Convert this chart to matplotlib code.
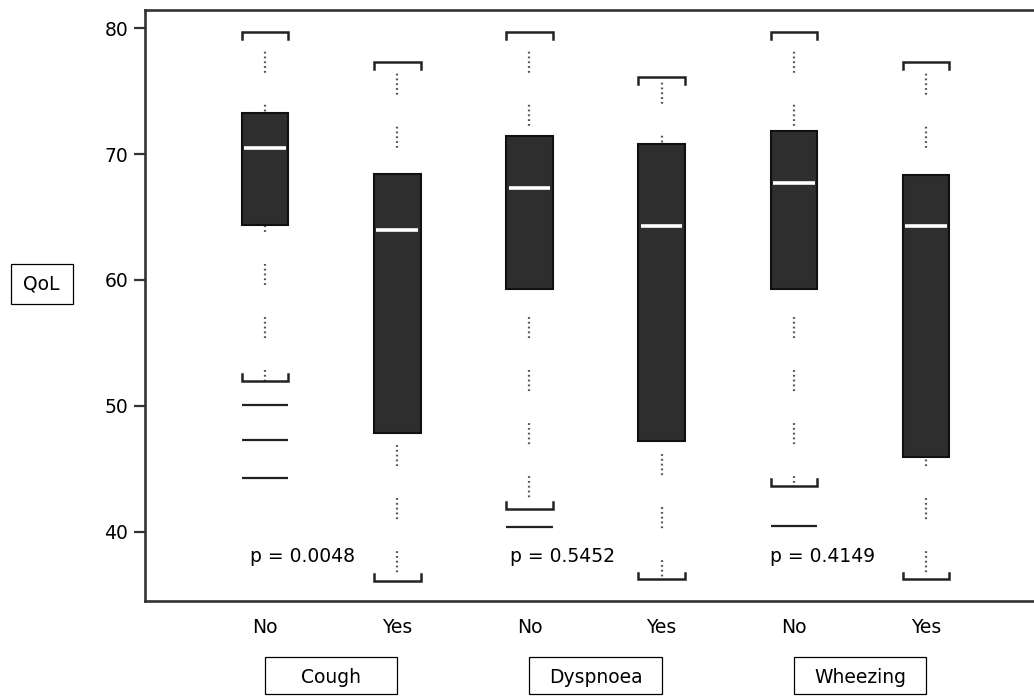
import matplotlib.pyplot as plt
from matplotlib.patches import Rectangle
from matplotlib.transforms import blended_transform_factory

plt.rcParams['font.family'] = ['DejaVu Sans']
plt.rcParams['lines.scale_dashes'] = False

# data
groups = ["Cough", "Dyspnoea", "Wheezing"]
levels = ["No", "Yes"]
box_low = [64.4, 47.8, 59.3, 47.2, 59.3, 45.9]
box_high = [73.3, 68.4, 71.4, 70.8, 71.8, 68.3]
medians = [70.5, 64.0, 67.3, 64.3, 67.7, 64.3]
whisker_high = [79.7, 77.3, 79.7, 76.1, 79.7, 77.3]
whisker_low = [52.0, 36.1, 41.8, 36.2, 43.6, 36.2]
outliers = [[50.1, 47.3, 44.3], [], [40.4], [], [40.45], []]
p_values = ["0.0048", "0.5452", "0.4149"]

# layout
W, H = 1034, 696
positions = [1, 2, 3, 4, 5, 6]
half = 0.1765
dot_offsets = [24.0, 29.8, 24.0, 34.1, 24.0, 29.8]
p_shift = [-0.113, -0.144, -0.181]
dots = (1.3, 2.16, 1.3, 2.16, 1.3, 2.16, 1.3, 2.16, 1.3, 23.06)

fig = plt.figure(figsize=(W / 100, H / 100), dpi=100)
ax = fig.add_axes([145 / W, 1 - 601 / H, 1 - 145 / W, (601 - 10) / H])

for i, x in enumerate(positions):
    # dotted whisker, cap to cap, behind the box
    ax.plot([x, x], [whisker_high[i], whisker_low[i]], color="#555555", lw=1.6,
            ls=(dot_offsets[i], dots), dash_capstyle="butt", zorder=1)
    # box
    ax.add_patch(Rectangle((x - half, box_low[i]), 2 * half, box_high[i] - box_low[i],
                           facecolor="#2e2e2e", edgecolor="#111111", lw=1.5, zorder=2))
    # median
    ax.plot([x - half + 0.02, x + half - 0.02], [medians[i]] * 2, color="white",
            lw=2.6, solid_capstyle="butt", zorder=3)
    # bracket caps
    ax.plot([x - half, x - half, x + half, x + half],
            [whisker_high[i] - 0.55, whisker_high[i], whisker_high[i], whisker_high[i] - 0.55],
            color="#222222", lw=1.8, zorder=3, solid_joinstyle="miter")
    ax.plot([x - half, x - half, x + half, x + half],
            [whisker_low[i] + 0.55, whisker_low[i], whisker_low[i], whisker_low[i] + 0.55],
            color="#222222", lw=1.8, zorder=3, solid_joinstyle="miter")
    # outliers as horizontal lines
    for v in outliers[i]:
        ax.plot([x - half, x + half], [v, v], color="#222222", lw=1.6,
                solid_capstyle="butt", zorder=3)

for g, p in enumerate(p_values):
    ax.text(positions[2 * g] + p_shift[g], 37.6, "p = " + p, fontsize=13.5,
            ha="left", va="baseline", color="black")

ax.set_xlim(0.093, 6.816)
ax.set_ylim(34.49, 81.45)
ax.set_yticks([40, 50, 60, 70, 80])
ax.set_xticks(positions)
ax.set_xticklabels(levels * 3)
ax.tick_params(axis="y", length=8, width=1.6, pad=4, labelsize=13.5, color="#333333")
ax.tick_params(axis="x", length=0, pad=12, labelsize=13.5)
for side in ["left", "top", "bottom"]:
    ax.spines[side].set_linewidth(1.9)
    ax.spines[side].set_color("#333333")
ax.spines["right"].set_visible(False)

# y label in a box
fig.add_artist(Rectangle((10.7 / W, 1 - 304.3 / H), 62 / W, 40.3 / H, transform=fig.transFigure,
                         facecolor="white", edgecolor="black", lw=0.9))
fig.text(41.7 / W, 1 - 284 / H, "QoL", fontsize=13.5, ha="center", va="center")

# group boxes under the axis
trans = blended_transform_factory(ax.transData, fig.transFigure)
for g, name in enumerate(groups):
    x0, x1 = positions[2 * g], positions[2 * g + 1]
    ax.add_patch(Rectangle((x0, 1 - 694 / H), x1 - x0, 37.5 / H, transform=trans,
                           facecolor="white", edgecolor="black", lw=0.9, clip_on=False))
    ax.text((x0 + x1) / 2, 1 - 683 / H, name, transform=trans, fontsize=13.5,
            ha="center", va="baseline")

fig.savefig("out.png", dpi=100)
